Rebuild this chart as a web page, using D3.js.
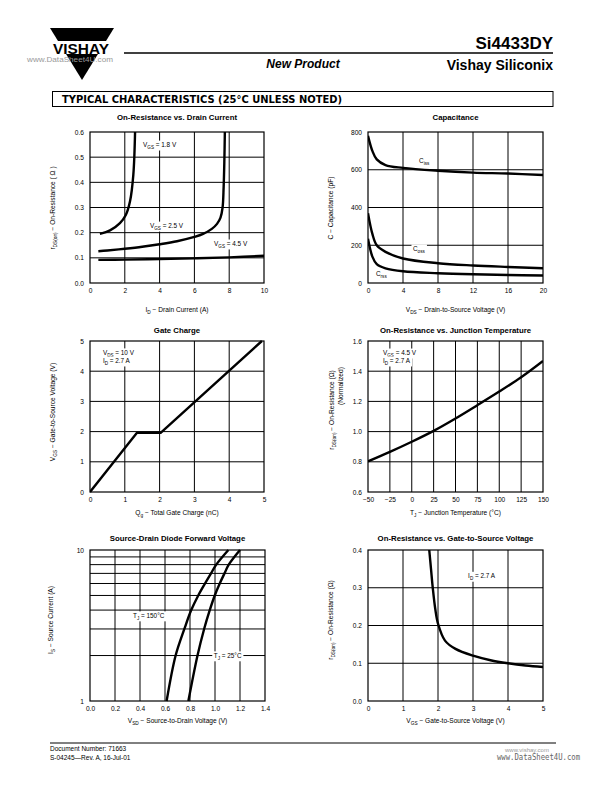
<!DOCTYPE html>
<html><head><meta charset="utf-8">
<script src="https://cdn.jsdelivr.net/npm/d3@7"></script>
<style>
html,body{margin:0;padding:0;background:#fff;}
svg{display:block;font-family:"Liberation Sans",Arial,Helvetica,sans-serif;}
</style></head>
<body>
<script>
// ---------------- DATA ----------------
// Chart 1: On-Resistance vs. Drain Current
const c1_id_18 = [0.57, 1.15, 1.72, 2.05, 2.30, 2.49, 2.59];
const c1_r_18  = [0.195, 0.209, 0.238, 0.269, 0.325, 0.43, 0.60];
const c1_id_25 = [0.48, 1.0, 2.0, 3.0, 4.0, 5.0, 6.0, 6.5, 7.0, 7.3, 7.5, 7.62, 7.68, 7.72, 7.75];
const c1_r_25  = [0.126, 0.129, 0.136, 0.144, 0.154, 0.166, 0.183, 0.195, 0.215, 0.235, 0.26, 0.30, 0.38, 0.48, 0.60];
const c1_id_45 = [0.48, 2, 4, 6, 8, 10];
const c1_r_45  = [0.092, 0.093, 0.095, 0.098, 0.102, 0.108];
const c1_xticks = [0, 2, 4, 6, 8, 10];
const c1_yticks = [0, 0.1, 0.2, 0.3, 0.4, 0.5, 0.6];

// Chart 2: Capacitance
const c2_vds  = [0, 0.5, 1, 2, 4, 8, 12, 16, 20];
const c2_ciss = [780, 700, 655, 625, 610, 595, 585, 580, 572];
const c2_coss = [370, 260, 200, 165, 130, 105, 93, 85, 78];
const c2_crss = [235, 140, 100, 78, 62, 52, 46, 42, 40];
const c2_xticks = [0, 4, 8, 12, 16, 20];
const c2_yticks = [0, 200, 400, 600, 800];

// Chart 3: Gate Charge
const c3_qg  = [0, 1.35, 2.03, 4.94];
const c3_vgs = [0, 1.96, 1.96, 5.0];
const c3_ticks = [0, 1, 2, 3, 4, 5];

// Chart 4: On-Resistance vs. Junction Temperature
const c4_tj = [-50, -25, 0, 25, 50, 75, 100, 125, 150];
const c4_r  = [0.803, 0.866, 0.933, 1.005, 1.087, 1.175, 1.265, 1.36, 1.468];
const c4_xticks = [-50, -25, 0, 25, 50, 75, 100, 125, 150];
const c4_yticks = [0.6, 0.8, 1.0, 1.2, 1.4, 1.6];

// Chart 5: Source-Drain Diode Forward Voltage
const c5_is     = [1, 2, 3, 4, 5, 6, 7, 8, 10];
const c5_v_150  = [0.613, 0.685, 0.755, 0.81, 0.866, 0.92, 0.968, 1.01, 1.107];
const c5_v_25   = [0.787, 0.86, 0.913, 0.958, 0.998, 1.038, 1.076, 1.11, 1.20];
const c5_xticks = [0, 0.2, 0.4, 0.6, 0.8, 1.0, 1.2, 1.4];
const c5_yticks = [1, 10];
const c5_ygrid  = [2, 3, 4, 5, 6, 7, 8, 9];

// Chart 6: On-Resistance vs. Gate-to-Source Voltage
const c6_vgs = [1.75, 1.8, 1.85, 1.92, 2.0, 2.2, 2.5, 3.0, 3.5, 4.0, 4.5, 5.0];
const c6_r   = [0.40, 0.35, 0.30, 0.245, 0.205, 0.16, 0.138, 0.12, 0.108, 0.10, 0.094, 0.09];
const c6_xticks = [0, 1, 2, 3, 4, 5];
const c6_yticks = [0, 0.1, 0.2, 0.3, 0.4];

// ---------------- DRAWING ----------------
const svg = d3.select("body").append("svg").attr("width", 612).attr("height", 792);
const smooth = d3.curveCatmullRom.alpha(0.5);

function rich(textSel, str, size) {
  const parts = str.split(/(_\{[^}]*\})/).filter(s => s.length);
  let shifted = false;
  parts.forEach(p => {
    if (p.startsWith("_{")) {
      textSel.append("tspan").attr("font-size", size * 0.72).attr("dy", size * 0.3)
        .text(p.slice(2, -1));
      shifted = true;
    } else {
      const t = textSel.append("tspan").text(p);
      if (shifted) { t.attr("dy", -size * 0.3); shifted = false; }
    }
  });
  return textSel;
}

function label(g, x, y, str, size, opts = {}) {
  const t = g.append("text").attr("x", x).attr("y", y).attr("font-size", size)
    .attr("fill", "#000");
  if (opts.anchor) t.attr("text-anchor", opts.anchor);
  if (opts.weight) t.attr("font-weight", opts.weight);
  if (opts.style) t.attr("font-style", opts.style);
  if (opts.rotate) t.attr("transform", `rotate(-90,${x},${y})`);
  rich(t, str, size);
  return t;
}

function chart(cfg) {
  const g = svg.append("g");
  const x = (cfg.xlog ? d3.scaleLog() : d3.scaleLinear()).domain(cfg.xd).range([cfg.left, cfg.left + cfg.w]);
  const y = (cfg.ylog ? d3.scaleLog() : d3.scaleLinear()).domain(cfg.yd).range([cfg.top + cfg.h, cfg.top]);
  // grid
  const gg = g.append("g").attr("stroke", "#000").attr("stroke-width", 1);
  cfg.xgrid.forEach(v => gg.append("line").attr("x1", x(v)).attr("x2", x(v))
    .attr("y1", cfg.top).attr("y2", cfg.top + cfg.h));
  cfg.ygrid.forEach(v => gg.append("line").attr("y1", y(v)).attr("y2", y(v))
    .attr("x1", cfg.left).attr("x2", cfg.left + cfg.w));
  // axes with tick labels
  const xa = d3.axisBottom(x).tickValues(cfg.xticks).tickSize(0).tickPadding(5).tickFormat(cfg.xfmt);
  const ya = d3.axisLeft(y).tickValues(cfg.yticks).tickSize(0).tickPadding(6).tickFormat(cfg.yfmt);
  const ax = g.append("g").attr("transform", `translate(0,${cfg.top + cfg.h})`).call(xa);
  const ay = g.append("g").attr("transform", `translate(${cfg.left},0)`).call(ya);
  [ax, ay].forEach(a => {
    a.select(".domain").remove();
    a.selectAll("text").attr("font-size", 6.6).attr("fill", "#000")
      .attr("font-family", '"Liberation Sans",Arial,sans-serif');
  });
  // frame
  g.append("rect").attr("x", cfg.left).attr("y", cfg.top).attr("width", cfg.w).attr("height", cfg.h)
    .attr("fill", "none").attr("stroke", "#000").attr("stroke-width", 1.2);
  // annotations (white background)
  (cfg.notes || []).forEach(n => {
    const t = label(g, x(n.x), y(n.y), n.t, 6.4);
    const bb = t.node().getBBox();
    g.insert("rect", () => t.node()).attr("x", bb.x - 1.5).attr("y", bb.y - 0.5)
      .attr("width", bb.width + 3).attr("height", bb.height + 1).attr("fill", "#fff");
  });
  // series
  const clipId = "clip" + Math.random().toString(36).slice(2);
  g.append("clipPath").attr("id", clipId).append("rect")
    .attr("x", cfg.left).attr("y", cfg.top - 1).attr("width", cfg.w).attr("height", cfg.h + 2);
  cfg.series.forEach(s => {
    const pts = s.x.map((v, i) => [v, s.y[i]]);
    g.append("path").attr("clip-path", `url(#${clipId})`)
      .attr("d", d3.line().x(d => x(d[0])).y(d => y(d[1])).curve(s.curve || smooth)(pts))
      .attr("fill", "none").attr("stroke", "#000").attr("stroke-width", 2.4)
      .attr("stroke-linejoin", "round");
  });
  // title and axis labels
  label(g, cfg.left + cfg.w / 2 + (cfg.tdx || 0), cfg.titleY, cfg.title, 7.8, { anchor: "middle", weight: "bold" });
  label(g, cfg.left + cfg.w / 2, cfg.xlabY, cfg.xlab, 6.6, { anchor: "middle" });
  cfg.ylabs.forEach(l => label(g, l.x, l.y, l.t, 6.6, { anchor: "middle", rotate: true }));
  return g;
}

const f1 = d3.format(".1f"), f0 = d3.format("d");

chart({ left: 90, top: 132, w: 174, h: 151, xd: [0, 10], yd: [0, 0.6],
  xticks: c1_xticks, yticks: c1_yticks, xgrid: [2, 4, 6, 8], ygrid: [0.1, 0.2, 0.3, 0.4, 0.5],
  xfmt: f0, yfmt: f1, title: "On-Resistance vs. Drain Current", titleY: 120,
  xlab: "I_{D}  \u2212  Drain Current (A)", xlabY: 312,
  ylabs: [{ x: 55, y: 208, t: "r_{DS(on)}  \u2212  On-Resistance ( \u03A9 )" }],
  notes: [{ x: 3.05, y: 0.54, t: "V_{GS} = 1.8 V" }, { x: 3.45, y: 0.218, t: "V_{GS} = 2.5 V" },
          { x: 7.13, y: 0.147, t: "V_{GS} = 4.5 V" }],
  series: [{ x: c1_id_18, y: c1_r_18 }, { x: c1_id_25, y: c1_r_25 }, { x: c1_id_45, y: c1_r_45 }] });

chart({ left: 368, top: 132, w: 175, h: 151, xd: [0, 20], yd: [0, 800],
  xticks: c2_xticks, yticks: c2_yticks, xgrid: [4, 8, 12, 16], ygrid: [200, 400, 600],
  xfmt: f0, yfmt: f0, title: "Capacitance", titleY: 120,
  xlab: "V_{DS}  \u2212  Drain-to-Source Voltage (V)", xlabY: 312,
  ylabs: [{ x: 333, y: 208, t: "C  \u2212  Capacitance (pF)" }],
  notes: [{ x: 5.83, y: 636, t: "C_{iss}" }, { x: 5.14, y: 170, t: "C_{oss}" }, { x: 0.91, y: 37, t: "C_{rss}" }],
  series: [{ x: c2_vds, y: c2_ciss }, { x: c2_vds, y: c2_coss }, { x: c2_vds, y: c2_crss }] });

chart({ left: 90, top: 341, w: 174, h: 151, xd: [0, 5], yd: [0, 5],
  xticks: c3_ticks, yticks: c3_ticks, xgrid: [1, 2, 3, 4], ygrid: [1, 2, 3, 4],
  xfmt: f0, yfmt: f0, title: "Gate Charge", titleY: 333,
  xlab: "Q_{g}  \u2212  Total Gate Charge (nC)", xlabY: 515,
  ylabs: [{ x: 55, y: 412, t: "V_{GS}  \u2212  Gate-to-Source Voltage (V)" }],
  notes: [{ x: 0.37, y: 4.54, t: "V_{DS} = 10 V" }, { x: 0.37, y: 4.27, t: "I_{D} = 2.7 A" }],
  series: [{ x: c3_qg, y: c3_vgs, curve: d3.curveLinear }] });

chart({ left: 368, top: 341, w: 175, h: 151, xd: [-50, 150], yd: [0.6, 1.6],
  xticks: c4_xticks, yticks: c4_yticks, xgrid: [-25, 0, 25, 50, 75, 100, 125], ygrid: [0.8, 1.0, 1.2, 1.4],
  xfmt: f0, yfmt: f1, title: "On-Resistance vs. Junction Temperature", titleY: 333,
  xlab: "T_{J} \u2212 Junction Temperature (\u00B0C)", xlabY: 515,
  ylabs: [{ x: 334, y: 410, t: "r_{DS(on)}  \u2212  On-Resistance (\u03A9)" }, { x: 343, y: 386, t: "(Normalized)" }],
  notes: [{ x: -32.9, y: 1.507, t: "V_{GS} = 4.5 V" }, { x: -32.9, y: 1.454, t: "I_{D} = 2.7 A" }],
  series: [{ x: c4_tj, y: c4_r }] });

chart({ left: 90, top: 550, w: 175, h: 151, xd: [0, 1.4], yd: [1, 10], ylog: true,
  xticks: c5_xticks, yticks: c5_yticks, xgrid: [0.2, 0.4, 0.6, 0.8, 1.0, 1.2], ygrid: c5_ygrid,
  xfmt: f1, yfmt: f0, title: "Source-Drain Diode Forward Voltage", titleY: 541,
  xlab: "V_{SD}  \u2212  Source-to-Drain Voltage (V)", xlabY: 723,
  ylabs: [{ x: 53, y: 620, t: "I_{S}  \u2212  Source Current (A)" }],
  notes: [{ x: 0.344, y: 3.55, t: "T_{J} = 150\u00B0C" }, { x: 0.99, y: 1.93, t: "T_{J} = 25\u00B0C" }],
  series: [{ x: c5_v_150, y: c5_is }, { x: c5_v_25, y: c5_is }] });

chart({ left: 368, top: 550, w: 175, h: 151, xd: [0, 5], yd: [0, 0.4],
  xticks: c6_xticks, yticks: c6_yticks, xgrid: [1, 2, 3, 4], ygrid: [0.1, 0.2, 0.3],
  xfmt: f0, yfmt: f1, title: "On-Resistance vs. Gate-to-Source Voltage", titleY: 541,
  xlab: "V_{GS} \u2212 Gate-to-Source Voltage (V)", xlabY: 723,
  ylabs: [{ x: 333, y: 620, t: "r_{DS(on)}  \u2212  On-Resistance (\u03A9)" }],
  notes: [{ x: 2.86, y: 0.325, t: "I_{D} = 2.7 A" }],
  series: [{ x: c6_vgs, y: c6_r }] });

// ---------------- HEADER ----------------
const hd = svg.append("g");
hd.append("polygon").attr("points", "50,28 114,28 82,80").attr("fill", "#000");
hd.append("rect").attr("x", 44).attr("y", 41).attr("width", 76).attr("height", 13).attr("fill", "#fff");
hd.append("text").attr("x", 81).attr("y", 53.5).attr("text-anchor", "middle").attr("font-size", 14)
  .attr("font-weight", "bold").attr("textLength", 56).attr("lengthAdjust", "spacingAndGlyphs").text("VISHAY");
hd.append("text").attr("x", 27).attr("y", 62).attr("font-size", 7).attr("fill", "#999")
  .attr("textLength", 86).attr("lengthAdjust", "spacingAndGlyphs").text("www.DataSheet4U.com");
hd.append("line").attr("x1", 124).attr("x2", 553).attr("y1", 53).attr("y2", 53)
  .attr("stroke", "#000").attr("stroke-width", 1.3);
hd.append("text").attr("x", 553).attr("y", 49).attr("text-anchor", "end").attr("font-size", 17)
  .attr("font-weight", "bold").text("Si4433DY");
hd.append("text").attr("x", 303).attr("y", 68).attr("text-anchor", "middle").attr("font-size", 12)
  .attr("font-weight", "bold").attr("font-style", "italic").text("New Product");
hd.append("text").attr("x", 553).attr("y", 70).attr("text-anchor", "end").attr("font-size", 14)
  .attr("font-weight", "bold").text("Vishay Siliconix");
hd.append("rect").attr("x", 52.5).attr("y", 91.5).attr("width", 500.5).attr("height", 15)
  .attr("fill", "none").attr("stroke", "#000").attr("stroke-width", 1);
hd.append("text").attr("x", 62).attr("y", 103).attr("font-size", 10).attr("font-weight", "bold")
  .attr("font-family", '"DejaVu Sans",sans-serif')
  .attr("textLength", 280).attr("lengthAdjust", "spacingAndGlyphs")
  .text("TYPICAL CHARACTERISTICS (25\u00B0C UNLESS NOTED)");

// ---------------- FOOTER ----------------
const ft = svg.append("g");
ft.append("line").attr("x1", 50).attr("x2", 556).attr("y1", 743).attr("y2", 743)
  .attr("stroke", "#000").attr("stroke-width", 1);
ft.append("text").attr("x", 50).attr("y", 751).attr("font-size", 6.5).text("Document Number:  71663");
ft.append("text").attr("x", 50).attr("y", 760).attr("font-size", 6.5).text("S-04245\u2014Rev. A, 16-Jul-01");
ft.append("text").attr("x", 505).attr("y", 752).attr("font-size", 6).attr("fill", "#999").text("www.vishay.com");
ft.append("text").attr("x", 497).attr("y", 760).attr("font-size", 9).attr("fill", "#666")
  .attr("font-family", '"DejaVu Sans Mono",monospace')
  .attr("textLength", 83).attr("lengthAdjust", "spacingAndGlyphs").text("www.DataSheet4U.com");
</script>
</body></html>
